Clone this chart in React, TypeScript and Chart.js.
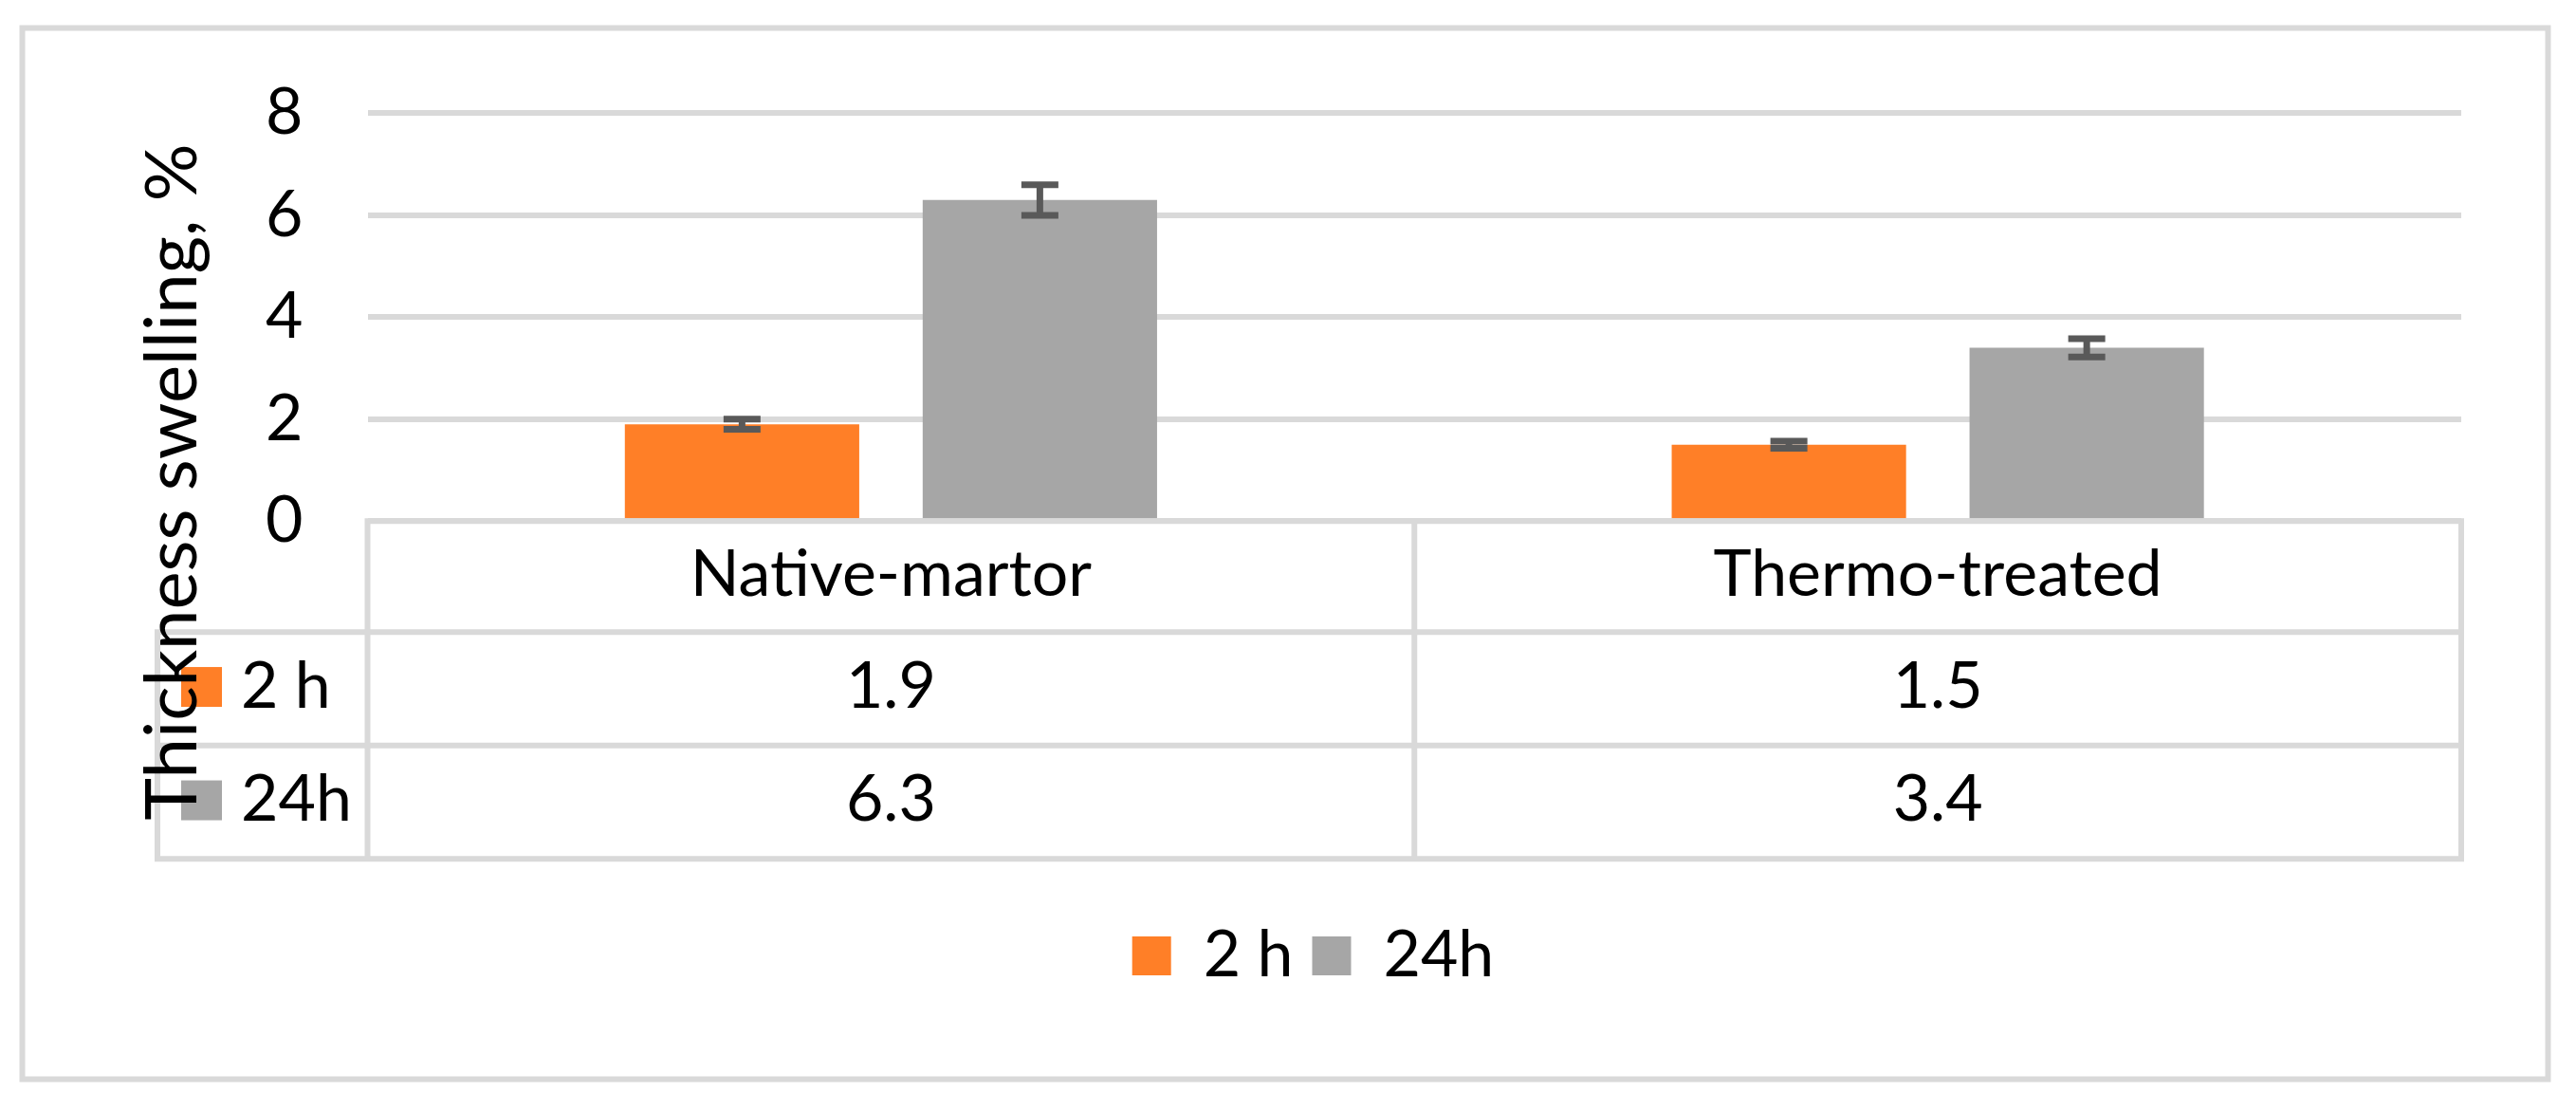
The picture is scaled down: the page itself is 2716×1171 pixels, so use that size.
import React, { useEffect, useRef } from 'react';
import { Chart, registerables } from 'chart.js';

Chart.register(...registerables);

// ---- data ----
const categories: string[] = ['Native-martor', 'Thermo-treated'];
const seriesNames: string[] = ['2 h', '24h'];
const values2h: number[] = [1.9, 1.5];
const values24h: number[] = [6.3, 3.4];
const errors2h: number[] = [0.1, 0.07];
const errors24h: number[] = [0.3, 0.18];
const yTickValues: number[] = [0, 2, 4, 6, 8];
const yAxisTitle = 'Thickness swelling, %';

// ---- styles ----
const seriesColors: string[] = ['#FF7F27', '#A6A6A6'];
const FONT = 'Lato';
const GRID = '#D9D9D9';

const decorPlugin = {
  id: 'decor',
  beforeDraw(chart: any) {
    const ctx = chart.ctx;
    ctx.save();
    ctx.fillStyle = '#ffffff';
    ctx.fillRect(0, 0, chart.width, chart.height);
    ctx.strokeStyle = GRID;
    ctx.lineWidth = 6;
    ctx.strokeRect(15.5, 21.5, 2663, 1108);
    ctx.restore();
  },
  afterDatasetsDraw(chart: any) {
    const ctx = chart.ctx;
    const ys = chart.scales.y;
    const errs = [errors2h, errors24h];
    ctx.save();
    ctx.strokeStyle = '#595959';
    ctx.lineWidth = 7;
    chart.data.datasets.forEach((ds: any, di: number) => {
      const meta = chart.getDatasetMeta(di);
      meta.data.forEach((bar: any, i: number) => {
        const v = ds.data[i];
        const e = errs[di][i];
        const yt = ys.getPixelForValue(v + e);
        const yb = ys.getPixelForValue(v - e);
        const x = bar.x;
        ctx.beginPath();
        ctx.moveTo(x, yt);
        ctx.lineTo(x, yb);
        ctx.moveTo(x - 19.5, yt);
        ctx.lineTo(x + 19.5, yt);
        ctx.moveTo(x - 19.5, yb);
        ctx.lineTo(x + 19.5, yb);
        ctx.stroke();
      });
    });
    ctx.restore();
  },
  afterDraw(chart: any) {
    const ctx = chart.ctx;
    const xs = chart.scales.x;
    const area = chart.chartArea;
    const n = categories.length;
    const centers = categories.map((_, i) => xs.getPixelForValue(i));
    const bounds: number[] = [area.left];
    for (let i = 0; i < n - 1; i++) bounds.push((centers[i] + centers[i + 1]) / 2);
    bounds.push(area.right);

    const top = area.bottom;
    const headerH = 117;
    const rowH = 119.5;
    const rowTops = [top + headerH, top + headerH + rowH];
    const bottom = top + headerH + 2 * rowH;
    const keyColLeft = 158;

    ctx.save();
    ctx.strokeStyle = GRID;
    ctx.lineWidth = 6;
    ctx.beginPath();
    // top line (axis)
    ctx.moveTo(area.left - 3, top);
    ctx.lineTo(area.right + 3, top);
    // row lines
    [rowTops[0], rowTops[1], bottom].forEach((y) => {
      ctx.moveTo(keyColLeft - 3, y);
      ctx.lineTo(area.right + 3, y);
    });
    // verticals
    ctx.moveTo(keyColLeft, rowTops[0]);
    ctx.lineTo(keyColLeft, bottom + 3);
    bounds.forEach((bx) => {
      ctx.moveTo(bx, top);
      ctx.lineTo(bx, bottom + 3);
    });
    ctx.stroke();

    // header texts
    ctx.fillStyle = '#000';
    ctx.font = `68px ${FONT}`;
    ctx.textAlign = 'center';
    ctx.textBaseline = 'middle';
    categories.forEach((c, i) => {
      ctx.fillText(c, centers[i], top + headerH / 2 - 2);
    });
    // values
    const rows = [values2h, values24h];
    rows.forEach((vals, r) => {
      const cy = rowTops[r] + rowH / 2 - 2;
      vals.forEach((v, i) => {
        ctx.fillStyle = '#000';
        ctx.textAlign = 'center';
        ctx.fillText(v.toFixed(1), centers[i], cy);
      });
      // key
      ctx.fillStyle = seriesColors[r];
      ctx.fillRect(183, cy - 21, 43, 42);
      ctx.fillStyle = '#000';
      ctx.textAlign = 'left';
      ctx.fillText(seriesNames[r], 246, cy);
    });

    // y axis title
    ctx.save();
    ctx.translate(199, 500);
    ctx.rotate(-Math.PI / 2);
    ctx.font = `76px ${FONT}`;
    ctx.textAlign = 'center';
    ctx.textBaseline = 'alphabetic';
    ctx.fillStyle = '#000';
    ctx.fillText(yAxisTitle, 0, 0);
    ctx.restore();

    ctx.restore();
  },
};

export default function App() {
  const ref = useRef<HTMLCanvasElement | null>(null);
  useEffect(() => {
    if (!ref.current) return;
    const chart = new Chart(ref.current, {
      type: 'bar',
      data: {
        labels: categories,
        datasets: [
          {
            label: seriesNames[0],
            data: values2h,
            backgroundColor: seriesColors[0],
            borderWidth: 0,
            categoryPercentage: 0.569,
            barPercentage: 0.787,
          },
          {
            label: seriesNames[1],
            data: values24h,
            backgroundColor: seriesColors[1],
            borderWidth: 0,
            categoryPercentage: 0.569,
            barPercentage: 0.787,
          },
        ],
      },
      options: {
        responsive: false,
        animation: false,
        devicePixelRatio: 1,
        layout: { padding: { left: 166, right: 113, top: 111.4, bottom: 111.5 } },
        plugins: {
          legend: {
            display: true,
            position: 'bottom',
            labels: {
              boxWidth: 41,
              boxHeight: 41,
              padding: 20,
              color: '#000',
              font: { family: FONT, size: 68 },
            },
          },
          tooltip: { enabled: false },
          title: { display: false },
        },
        scales: {
          x: {
            ticks: { display: false },
            grid: { display: false },
            border: { display: false },
            afterFit: (s: any) => {
              s.height = 404.2;
            },
          },
          y: {
            min: yTickValues[0],
            max: yTickValues[yTickValues.length - 1],
            ticks: {
              stepSize: yTickValues[1] - yTickValues[0],
              padding: 68,
              color: '#000',
              font: { family: FONT, size: 68 },
            },
            grid: { color: GRID, lineWidth: 6, drawTicks: false },
            border: { display: false },
            afterFit: (s: any) => {
              s.width = 213.5;
            },
          },
        },
      },
      plugins: [decorPlugin],
    });
    return () => chart.destroy();
  }, []);
  return <canvas ref={ref} width={2700} height={1155} style={{ display: 'block' }} />;
}
